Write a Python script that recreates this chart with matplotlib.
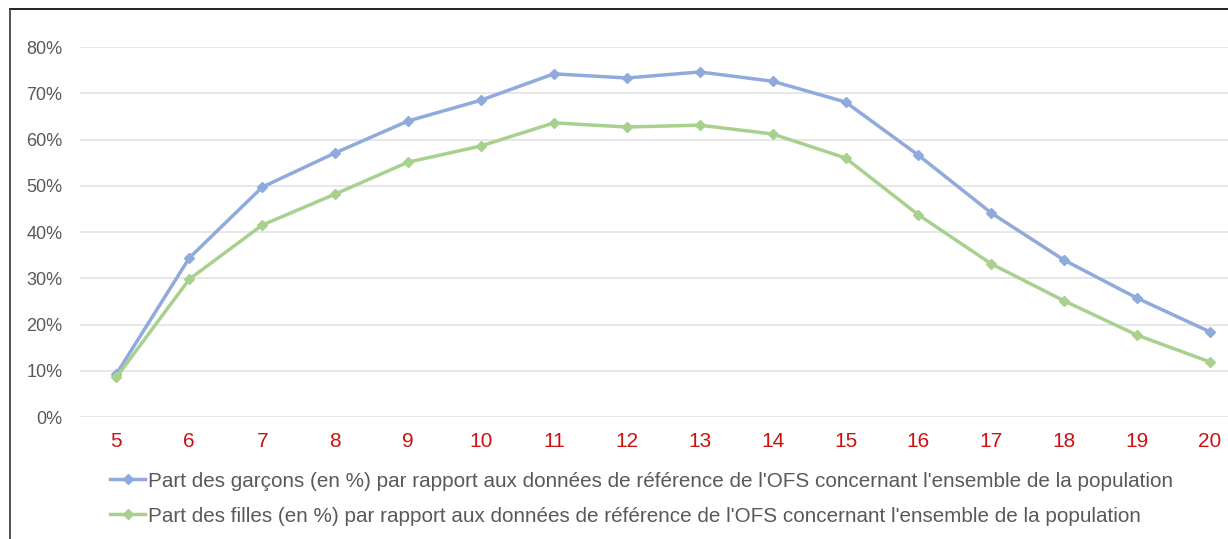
import matplotlib.pyplot as plt
from matplotlib.lines import Line2D
from matplotlib.ticker import FuncFormatter

# ------------- DATA ------------- #
ages = [5, 6, 7, 8, 9, 10, 11, 12, 13, 14, 15, 16, 17, 18, 19, 20]
garcons = [9.3, 34.4, 49.7, 57.1, 64.0, 68.5, 74.2, 73.3, 74.6, 72.6, 68.1, 56.6, 44.1, 33.9, 25.7, 18.4]
filles = [8.6, 29.8, 41.5, 48.2, 55.1, 58.6, 63.6, 62.7, 63.1, 61.2, 56.0, 43.7, 33.1, 25.1, 17.7, 11.9]
labels = ["Part des garçons (en %) par rapport aux données de référence de l'OFS concernant l'ensemble de la population",
          "Part des filles (en %) par rapport aux données de référence de l'OFS concernant l'ensemble de la population"]

# ------------- STYLE ------------- #
plt.rcParams['font.family'] = ['Liberation Sans', 'DejaVu Sans']
blue = '#8faadc'
green = '#a9d18e'
grey_txt = '#595959'
red_txt = '#cc1111'

fig = plt.figure(figsize=(12.28, 5.39), dpi=100)
ax = fig.add_axes([0.0651, 0.2263, 0.9500, 0.6865])

ax.plot(ages, garcons, color=blue, lw=2.5, marker='D', ms=5.5, label=labels[0])
ax.plot(ages, filles, color=green, lw=2.5, marker='D', ms=5.5, label=labels[1])

ax.set_xlim(4.5, 20.5)
ax.set_ylim(0, 80)
ax.set_yticks(range(0, 81, 10))
ax.yaxis.set_major_formatter(FuncFormatter(lambda v, p: f"{int(v)}%"))
ax.set_xticks(ages)
ax.grid(axis='y', color='#e3e3e3', lw=1.2)
ax.set_axisbelow(True)
for s in ax.spines.values():
    s.set_visible(False)
ax.tick_params(axis='y', length=0, pad=12.7, labelsize=13, labelcolor=grey_txt)
ax.tick_params(axis='x', length=0, pad=11, labelsize=15, labelcolor=red_txt)

fig.legend(loc='center left', bbox_to_anchor=(0.0896, 0.075), frameon=False,
           fontsize=14.9, labelcolor=grey_txt, handlelength=1.7, handletextpad=0.15,
           labelspacing=0.78, borderpad=0, borderaxespad=0)

# frame (top and left only visible in the crop)
fig.add_artist(Line2D([0.0081, 1.0], [0.9833, 0.9833], color='black', lw=1.2, transform=fig.transFigure))
fig.add_artist(Line2D([0.0081, 0.0081], [0.0, 0.9833], color='#333333', lw=1.2, transform=fig.transFigure))

plt.savefig('out.png', dpi=100)
